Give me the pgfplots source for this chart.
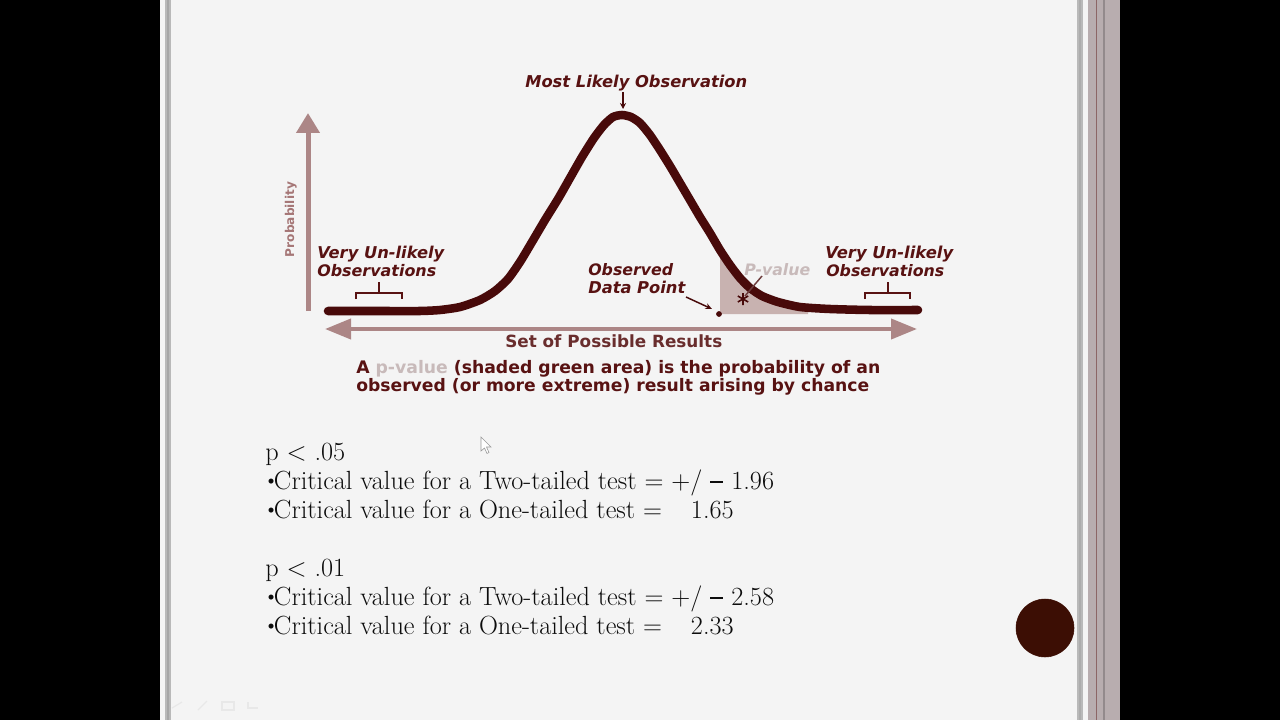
\documentclass[border=0pt]{standalone}
\usepackage{fontspec}
\usepackage{graphicx}
\usepackage{pgfplots}
\pgfplotsset{compat=1.18}
\usetikzlibrary{arrows.meta}
\newfontfamily\dv{DejaVu Sans}
\newlength\px \setlength\px{0.75pt}
\definecolor{slide}{RGB}{244,244,244}
\definecolor{curve}{RGB}{72,10,10}
\definecolor{axisc}{RGB}{172,134,134}
\definecolor{prob}{RGB}{165,118,118}
\definecolor{lab}{RGB}{88,18,18}
\definecolor{labtwo}{RGB}{105,45,45}
\definecolor{shade}{RGB}{200,178,176}
\definecolor{pv}{RGB}{200,186,186}
\definecolor{circ}{RGB}{60,14,4}
\definecolor{body}{RGB}{12,12,12}
\definecolor{mauve}{RGB}{184,173,175}
% width-fitted labels (width in px)
\newcommand\labi[2]{\resizebox{#1\px}{!}{\dv\bfseries\itshape #2}}
\newcommand\labu[2]{\resizebox{#1\px}{!}{\dv\bfseries #2}}
\newcommand\bul{\kern-0.08em\raisebox{0.1ex}{\scalebox{0.85}{\textbullet}}\kern-0.2em}
\newcommand\dash{\rule[0.24em]{0.5em}{0.06em}}

\begin{document}
\begin{tikzpicture}
\begin{axis}[
    scale only axis,
    width=960pt, height=540pt,
    xmin=0, xmax=1280, ymin=0, ymax=720,
    y dir=reverse,
    hide axis,
    clip=false,
]
% screen and slide borders
\fill[black] (0,0) rectangle (1280,720);
\fill[slide] (160,0) rectangle (1120,720);
\fill[gray!55] (165,0) rectangle (171,720);
\fill[gray!70] (167,0) rectangle (169,720);
\fill[gray!55] (1077,0) rectangle (1083,720);
\fill[gray!65] (1079,0) rectangle (1081,720);
\fill[mauve] (1088,0) rectangle (1120,720);
\fill[black!75!red!60!white] (1095.5,0) rectangle (1096.8,720);
\fill[mauve!80!black] (1102.5,0) rectangle (1104.5,720);

% shaded p-value area
\addplot[fill=shade, draw=none] coordinates {
    (720,314) (720,256) (730,269) (742,283) (752,291) (764,298) (780,303) (795,307) (808,311) (808,314)
};

% axes arrows
\addplot[axisc, line width=3.75pt, -{Triangle[length=15pt,width=17pt]}]
    coordinates {(308,311) (308,113)};
\addplot[axisc, line width=3pt, {Triangle[length=19.5pt,width=15pt]}-{Triangle[length=19.5pt,width=15pt]}]
    coordinates {(325,329) (917,329)};

% bell curve
\addplot[curve, line width=6.4pt, line cap=round, smooth, tension=0.4] coordinates {
    (328,311) (380,311) (420,311) (440,310) (460,307) (480,300) (495,291)
    (508,279) (520,262) (532,242) (545,220) (558,199) (570,178) (582,157)
    (594,138) (604,125) (613,117) (622,115) (631,117) (640,123) (650,135)
    (660,150) (670,166) (680,183) (690,200) (700,217) (710,233) (720,250)
    (730,265) (740,278) (750,288) (762,296) (778,302) (800,307) (830,309)
    (870,310) (918,310)
};

% observed data point, pointer and star
\addplot[only marks, mark=*, mark size=1.9pt, mark options={draw=curve, fill=curve}]
    coordinates {(719,314)};
\addplot[curve, line width=1.1pt, -{Stealth[length=5pt,width=4.5pt]}]
    coordinates {(686,297) (712,309)};
\addplot[curve!80, line width=1.1pt] coordinates {(762,276) (745,296)};
\addplot[only marks, mark=asterisk, mark size=4.5pt, mark options={draw=curve, line width=1.2pt}]
    coordinates {(743,299)};
\addplot[curve, line width=1.1pt, -{Stealth[length=4.5pt,width=4.5pt]}]
    coordinates {(623,92) (623,109)};

% brackets
\addplot[lab, line width=1.5pt] coordinates {(356,299) (356,293) (402,293) (402,299)};
\addplot[lab, line width=1.5pt] coordinates {(379,293) (379,282)};
\addplot[lab, line width=1.5pt] coordinates {(865,299) (865,293) (910,293) (910,299)};
\addplot[lab, line width=1.5pt] coordinates {(888,293) (888,282)};

% labels
\begin{scope}[every node/.style={anchor=base west, inner sep=0pt, text=lab}]
\node at (525,88) {\labi{222}{Most Likely Observation}};
\node at (317,258) {\labi{127}{Very Un-likely}};
\node at (317,276) {\labi{119}{Observations}};
\node at (825,258) {\labi{128}{Very Un-likely}};
\node at (826,276) {\labi{118}{Observations}};
\node at (588,275) {\labi{85}{Observed}};
\node at (588,293) {\labi{97}{Data Point}};
\node[text=pv] at (744,275) {\labi{66}{P-value}};
\node[text=labtwo] at (505,347) {\labu{217}{Set of Possible Results}};
\node at (356,373) {\labu{524}{A \textcolor{pv}{p-value} (shaded green area) is the probability of an}};
\node at (356,391) {\labu{513}{observed (or more extreme) result arising by chance}};
\end{scope}
\node[rotate=90, anchor=base, inner sep=0pt, text=prob] at (294,219.5) {\labu{75}{Probability}};

% slide body text
\begin{scope}[every node/.style={anchor=base west, inner sep=0pt, text=body,
    font=\fontsize{19.7}{23}\selectfont}]
\node at (265,460) {p < .05};
\node at (265,489) {\bul Critical value for a Two-tailed test = +/ \dash{} 1.96};
\node at (265,518) {\bul Critical value for a One-tailed test = \hspace{0.8em}1.65};
\node at (265,576) {p < .01};
\node at (265,605) {\bul Critical value for a Two-tailed test = +/ \dash{} 2.58};
\node at (265,634) {\bul Critical value for a One-tailed test = \hspace{0.8em}2.33};
\end{scope}

% mouse cursor
\filldraw[fill=white, draw=gray!80, line width=0.45pt]
    (481,437) -- (481,451) -- (484.5,448) -- (487,453.5) -- (489,452.5) -- (486.5,447) -- (491,447) -- cycle;

% faint toolbar icons
\begin{scope}[draw=gray!18, line width=0.9pt]
\draw (172,708) -- (182,702);
\draw (198,710) -- (207,701);
\draw (222,702) rectangle (234,710);
\draw (248,702) -- (248,708) -- (258,708);
\end{scope}

% navigation circle
\addplot[only marks, mark=*, mark size=21.75pt, mark options={draw=circ, fill=circ}]
    coordinates {(1045,628)};
\end{axis}
\end{tikzpicture}
\end{document}
